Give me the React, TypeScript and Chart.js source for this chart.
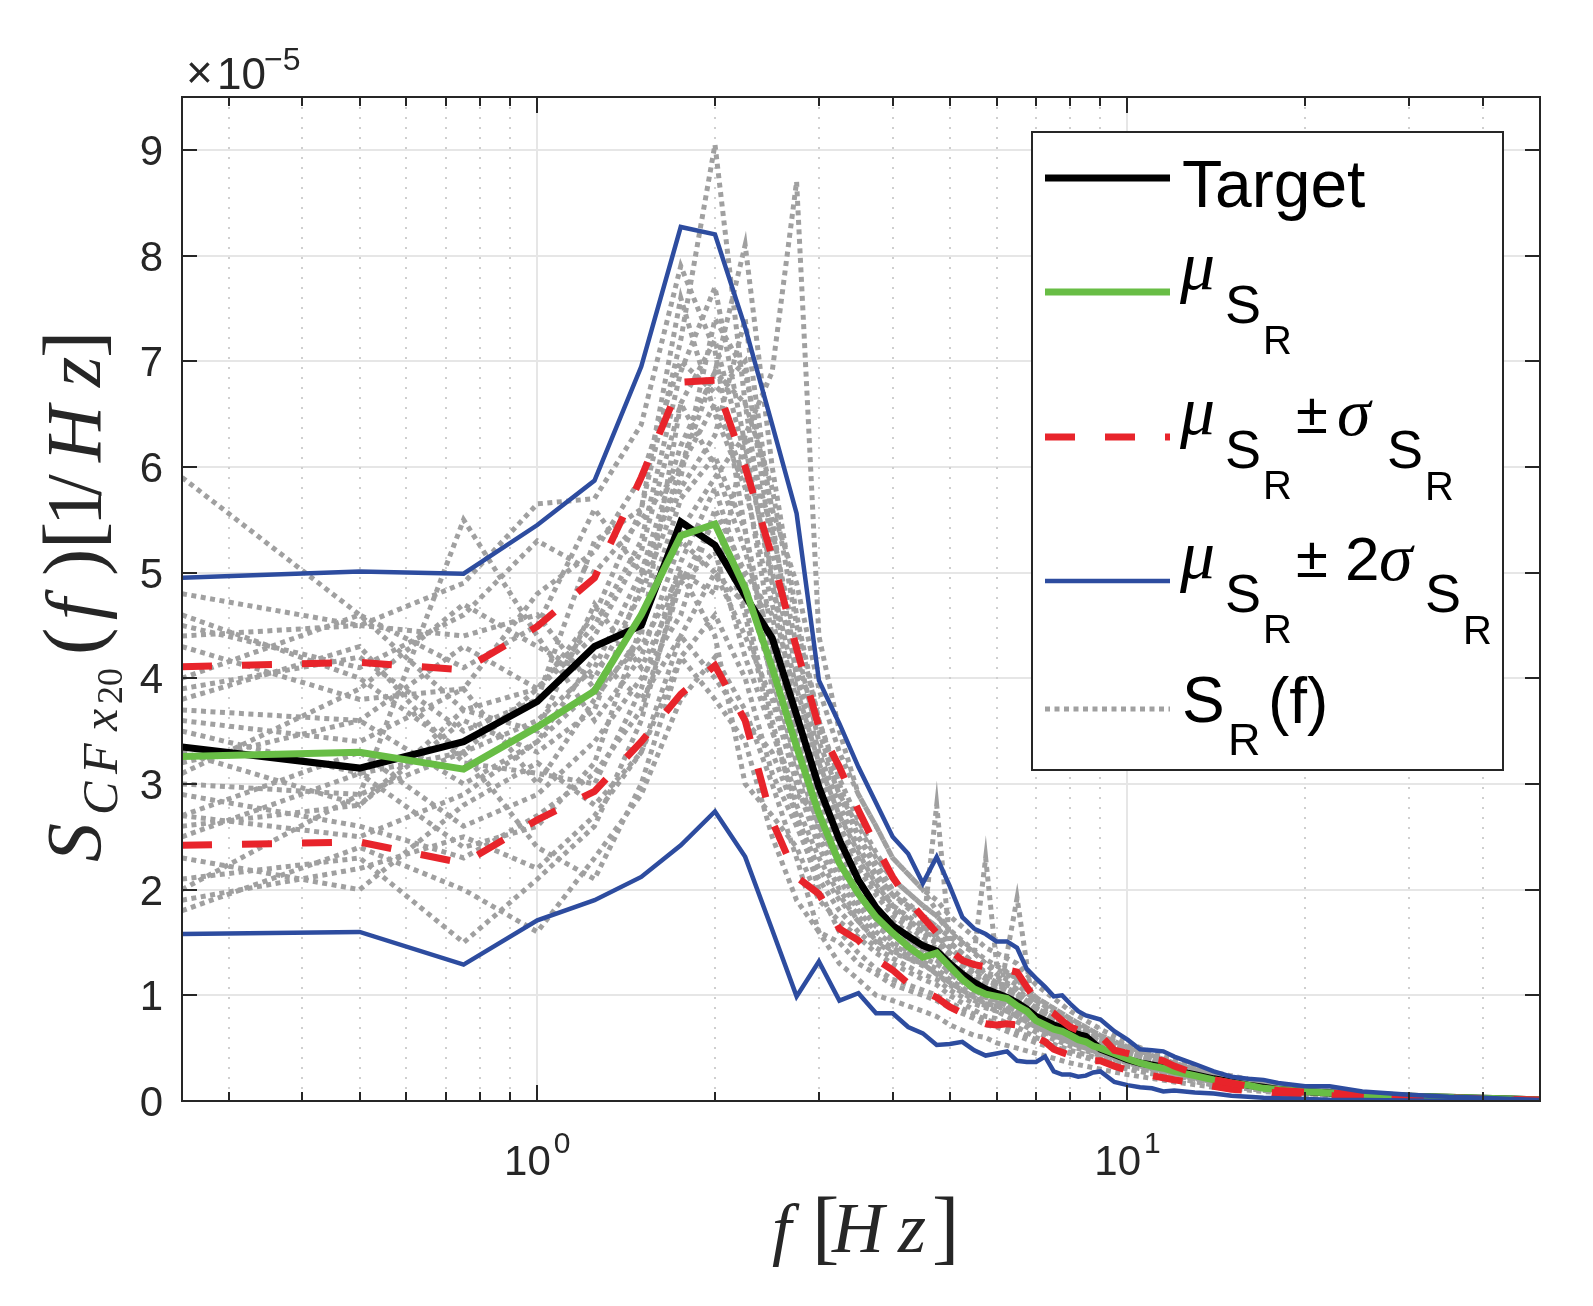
import React, { useEffect, useRef } from 'react';
import { Chart, registerables } from 'chart.js';

Chart.register(...registerables);

// frequency grid of the summary curves [Hz]
const freqs = [
  0.25, 0.5, 0.75, 1.0, 1.25, 1.5, 1.75, 2.0,
  2.25, 2.5, 2.75, 3.0, 3.25, 3.5, 3.75, 4.0,
  4.25, 4.5, 4.75, 5.0, 5.25, 5.5, 5.75, 6.0,
  6.25, 6.5, 6.75, 7.0, 7.25, 7.5, 7.75, 8.0,
  8.25, 8.5, 8.75, 9.0, 9.5, 10, 10.5, 11,
  11.5, 12, 13, 14, 15, 16, 17, 18,
  20, 22, 25, 30, 35, 40, 45, 50,
];

// values in units of 1e-5 [1/Hz]
const target = [
  3.35, 3.15, 3.40, 3.78, 4.30, 4.50, 5.48, 5.26,
  4.78, 4.38, 3.65, 2.97, 2.47, 2.09, 1.83, 1.66,
  1.56, 1.47, 1.42, 1.30, 1.20, 1.12, 1.06, 1.02,
  0.98, 0.93, 0.87, 0.80, 0.76, 0.72, 0.69, 0.66,
  0.63, 0.61, 0.55, 0.49, 0.44, 0.39, 0.36, 0.34,
  0.32, 0.29, 0.25, 0.21, 0.18, 0.15, 0.13, 0.11,
  0.09, 0.075, 0.06, 0.045, 0.035, 0.025, 0.018, 0.01,
];

const meanSR = [
  3.26, 3.30, 3.14, 3.54, 3.88, 4.60, 5.35, 5.46,
  4.85, 4.10, 3.35, 2.72, 2.25, 1.96, 1.74, 1.59,
  1.46, 1.36, 1.40, 1.27, 1.15, 1.06, 1.01, 0.99,
  0.97, 0.90, 0.85, 0.76, 0.72, 0.68, 0.66, 0.62,
  0.58, 0.56, 0.52, 0.50, 0.45, 0.40, 0.36, 0.33,
  0.31, 0.28, 0.24, 0.20, 0.17, 0.15, 0.12, 0.11,
  0.09, 0.075, 0.06, 0.045, 0.035, 0.025, 0.018, 0.01,
];

const plusSigma = [
  4.11, 4.15, 4.08, 4.49, 4.95, 5.90, 6.80, 6.82,
  6.00, 5.15, 4.28, 3.54, 3.16, 2.75, 2.41, 2.12,
  1.90, 1.74, 1.59, 1.43, 1.33, 1.29, 1.27, 1.25,
  1.24, 1.22, 1.08, 0.95, 0.88, 0.83, 0.76, 0.70,
  0.67, 0.64, 0.62, 0.62, 0.48, 0.45, 0.42, 0.40,
  0.38, 0.33, 0.26, 0.20, 0.17, 0.14, 0.12, 0.10,
  0.085, 0.075, 0.06, 0.04, 0.03, 0.02, 0.015, 0.01,
];

const minusSigma = [
  2.42, 2.45, 2.25, 2.66, 2.93, 3.40, 3.85, 4.12,
  3.60, 2.65, 2.12, 1.96, 1.63, 1.52, 1.34, 1.24,
  1.11, 1.04, 0.98, 0.89, 0.83, 0.76, 0.73, 0.72,
  0.73, 0.72, 0.68, 0.60, 0.56, 0.49, 0.46, 0.43,
  0.40, 0.38, 0.38, 0.38, 0.33, 0.29, 0.26, 0.24,
  0.22, 0.20, 0.17, 0.14, 0.11, 0.10, 0.085, 0.075,
  0.065, 0.05, 0.04, 0.03, 0.02, 0.015, 0.01, 0.005,
];

const plus2Sigma = [
  4.95, 5.01, 4.99, 5.45, 5.87, 6.95, 8.27, 8.20,
  7.32, 6.40, 5.56, 3.98, 3.57, 3.16, 2.82, 2.50,
  2.34, 2.06, 2.31, 2.03, 1.74, 1.63, 1.58, 1.51,
  1.51, 1.45, 1.25, 1.16, 1.08, 0.99, 1.00, 0.92,
  0.85, 0.81, 0.79, 0.77, 0.66, 0.58, 0.49, 0.48,
  0.47, 0.42, 0.35, 0.28, 0.23, 0.21, 0.20, 0.17,
  0.14, 0.14, 0.09, 0.06, 0.04, 0.03, 0.02, 0.01,
];

const minus2Sigma = [
  1.58, 1.60, 1.29, 1.71, 1.90, 2.12, 2.42, 2.74,
  2.31, 1.62, 0.99, 1.32, 0.95, 1.02, 0.83, 0.83,
  0.70, 0.64, 0.53, 0.54, 0.56, 0.48, 0.43, 0.45,
  0.47, 0.38, 0.37, 0.37, 0.42, 0.28, 0.25, 0.25,
  0.23, 0.24, 0.27, 0.28, 0.18, 0.15, 0.13, 0.12,
  0.09, 0.10, 0.08, 0.07, 0.05, 0.04, 0.03, 0.025,
  0.02, 0.012, 0.01, 0.005, 0.003, 0.002, 0.001, 0.0,
];

// frequency grid of the individual realisations S_R(f)
const sampleFreqs = [
  0.25, 0.5, 0.75, 1, 1.25, 1.5, 1.75, 2, 2.25, 2.5,
  2.75, 3, 3.25, 3.5, 3.75, 4, 4.5, 4.75, 5, 5.5,
  5.75, 6, 6.5, 7, 8, 9, 10, 12, 14, 17,
  20, 25, 30, 40, 50,
];

const samples = [
  [5.9, 4.6, 3.7, 3.9, 4.4, 5.2, 6.6, 7.2, 6.1, 5.0,
    4.1, 3.3, 2.8, 2.4, 2.1, 1.85, 1.6, 1.55, 1.4, 1.2,
    1.1, 1.05, 0.95, 0.8, 0.65, 0.5, 0.42, 0.3, 0.22, 0.14,
    0.1, 0.07, 0.05, 0.025, 0.01],
  [3.0, 2.9, 3.3, 3.9, 4.6, 5.6, 7.2, 9.05, 6.6, 4.9,
    3.6, 2.9, 2.4, 2.0, 1.8, 1.7, 1.5, 1.45, 1.3, 1.15,
    1.05, 1.0, 0.9, 0.75, 0.6, 0.5, 0.4, 0.28, 0.2, 0.13,
    0.09, 0.06, 0.045, 0.02, 0.01],
  [2.7, 2.5, 2.9, 3.4, 3.9, 4.6, 5.4, 5.9, 6.3, 6.9,
    8.7, 4.4, 3.5, 2.9, 2.6, 2.3, 2.0, 1.8, 1.6, 1.4,
    1.3, 1.2, 1.1, 0.95, 0.75, 0.6, 0.5, 0.33, 0.24, 0.16,
    0.11, 0.07, 0.05, 0.025, 0.01],
  [4.6, 4.0, 3.3, 3.6, 4.1, 5.0, 6.2, 6.9, 8.1, 6.0,
    4.6, 3.6, 3.0, 2.5, 2.2, 1.95, 1.7, 1.6, 1.45, 1.25,
    1.15, 1.1, 1.0, 0.85, 0.68, 0.55, 0.45, 0.32, 0.22, 0.15,
    0.1, 0.07, 0.05, 0.025, 0.01],
  [2.0, 2.9, 5.5, 4.4, 3.6, 4.2, 5.3, 5.0, 4.4, 3.8,
    3.0, 2.4, 2.0, 1.75, 1.55, 1.45, 1.3, 1.2, 1.1, 0.95,
    0.9, 0.85, 0.75, 0.65, 0.52, 0.43, 0.36, 0.25, 0.18, 0.12,
    0.08, 0.055, 0.04, 0.02, 0.008],
  [4.4, 4.5, 4.9, 5.65, 5.7, 6.4, 7.9, 7.1, 5.4, 4.2,
    3.4, 2.9, 2.5, 2.2, 1.95, 1.75, 1.55, 1.5, 1.35, 1.15,
    1.1, 1.05, 0.95, 0.8, 0.62, 0.52, 0.44, 0.3, 0.21, 0.14,
    0.1, 0.065, 0.045, 0.022, 0.01],
  [1.8, 2.4, 2.0, 1.6, 2.3, 2.9, 3.8, 4.2, 3.7, 3.0,
    2.3, 1.6, 1.3, 1.15, 1.0, 0.95, 0.85, 0.8, 0.72, 0.62,
    0.6, 0.55, 0.5, 0.45, 0.36, 0.3, 0.25, 0.18, 0.13, 0.09,
    0.06, 0.04, 0.03, 0.015, 0.005],
  [2.7, 3.3, 2.6, 2.9, 3.4, 4.0, 4.6, 5.6, 5.0, 4.6,
    3.4, 2.6, 2.2, 1.9, 1.7, 1.5, 1.35, 1.3, 1.2, 1.05,
    0.98, 0.95, 0.85, 0.72, 0.58, 0.47, 0.39, 0.27, 0.2, 0.13,
    0.09, 0.06, 0.04, 0.02, 0.008],
  [3.6, 3.4, 3.9, 3.0, 3.8, 4.4, 6.6, 6.0, 5.2, 4.3,
    3.6, 3.0, 2.6, 2.3, 2.0, 1.8, 1.6, 2.8, 1.5, 1.3,
    1.2, 1.15, 1.05, 0.88, 0.7, 0.56, 0.46, 0.33, 0.23, 0.15,
    0.1, 0.07, 0.05, 0.024, 0.01],
  [3.1, 3.9, 4.7, 4.3, 4.0, 4.8, 5.8, 6.3, 7.4, 5.5,
    4.0, 3.2, 2.7, 2.4, 2.15, 1.95, 1.75, 1.65, 1.55, 1.4,
    2.3, 1.3, 1.15, 0.95, 0.75, 0.6, 0.5, 0.35, 0.25, 0.16,
    0.11, 0.075, 0.05, 0.025, 0.01],
  [2.3, 2.0, 2.8, 3.2, 2.8, 3.3, 4.2, 4.6, 4.0, 3.1,
    2.6, 2.1, 1.8, 1.6, 1.45, 1.35, 1.2, 1.15, 1.05, 0.92,
    0.88, 0.85, 1.92, 0.7, 0.56, 0.46, 0.38, 0.27, 0.19, 0.12,
    0.085, 0.055, 0.04, 0.02, 0.008],
  [4.0, 4.6, 4.1, 4.5, 5.6, 5.0, 5.9, 7.4, 6.9, 5.6,
    4.9, 3.9, 3.3, 2.9, 2.6, 2.3, 2.0, 1.9, 1.75, 1.55,
    1.45, 1.4, 1.3, 1.1, 0.85, 0.68, 0.55, 0.38, 0.27, 0.18,
    0.12, 0.08, 0.055, 0.028, 0.012],
  [3.3, 2.8, 3.7, 3.5, 4.7, 4.1, 4.9, 5.5, 4.6, 3.5,
    2.9, 2.7, 2.2, 1.85, 1.65, 1.55, 1.45, 1.35, 1.25, 1.08,
    1.0, 0.98, 0.88, 0.76, 0.6, 0.49, 0.4, 0.28, 0.2, 0.13,
    0.09, 0.06, 0.045, 0.022, 0.009],
  [2.5, 3.1, 3.3, 2.4, 2.1, 3.0, 4.2, 3.8, 3.4, 2.5,
    1.9, 1.6, 1.5, 1.3, 1.2, 1.1, 1.0, 0.95, 0.88, 0.78,
    0.72, 0.7, 0.62, 0.55, 0.45, 0.37, 0.3, 0.22, 0.15, 0.1,
    0.07, 0.045, 0.032, 0.016, 0.006],
  [4.8, 4.5, 4.4, 4.6, 3.9, 4.3, 5.0, 4.8, 6.3, 5.4,
    4.3, 3.4, 2.9, 2.6, 2.3, 2.1, 1.85, 1.75, 1.6, 1.4,
    1.3, 1.25, 1.15, 0.98, 0.78, 0.62, 0.52, 0.36, 0.25, 0.16,
    0.11, 0.075, 0.05, 0.026, 0.011],
  [3.7, 3.6, 3.0, 3.4, 4.2, 3.8, 4.4, 4.0, 3.6, 3.3,
    2.7, 2.2, 1.9, 1.7, 1.5, 1.4, 1.3, 1.2, 1.12, 0.98,
    0.92, 0.9, 0.8, 0.7, 0.55, 0.45, 0.37, 0.26, 0.18, 0.12,
    0.08, 0.055, 0.04, 0.02, 0.008],
  [2.1, 2.3, 1.5, 2.1, 2.6, 3.6, 5.0, 4.4, 3.0, 2.7,
    2.4, 1.9, 1.7, 1.55, 1.4, 1.3, 1.15, 1.1, 1.0, 0.86,
    0.8, 0.78, 0.7, 0.6, 0.48, 0.4, 0.33, 0.24, 0.17, 0.11,
    0.075, 0.05, 0.036, 0.018, 0.007],
  [3.9, 4.2, 3.5, 3.8, 5.3, 5.6, 7.6, 6.5, 5.8, 4.7,
    3.8, 3.1, 2.6, 2.25, 2.0, 1.8, 1.6, 1.5, 1.4, 1.22,
    1.15, 1.1, 1.0, 0.86, 0.67, 0.54, 0.45, 0.32, 0.22, 0.15,
    0.1, 0.068, 0.048, 0.024, 0.01],
  [3.2, 3.6, 4.3, 3.9, 4.5, 5.3, 6.9, 7.7, 6.2, 4.9,
    3.9, 3.2, 2.7, 2.35, 2.05, 1.85, 1.65, 1.55, 1.45, 1.25,
    1.18, 1.12, 1.02, 0.88, 0.7, 0.56, 0.46, 0.33, 0.23, 0.15,
    0.1, 0.07, 0.05, 0.025, 0.01],
  [2.9, 2.6, 2.3, 2.7, 3.1, 3.7, 4.9, 5.2, 4.2, 3.5,
    2.8, 2.3, 1.95, 1.7, 1.52, 1.42, 1.28, 1.22, 1.12, 0.98,
    0.92, 0.9, 0.8, 0.68, 0.55, 0.45, 0.37, 0.26, 0.18, 0.12,
    0.08, 0.055, 0.04, 0.02, 0.008],
  [4.3, 3.8, 3.9, 4.8, 5.2, 5.9, 7.0, 6.7, 7.0, 5.2,
    4.2, 3.5, 2.9, 2.5, 2.25, 2.0, 1.75, 1.65, 1.5, 1.3,
    1.22, 1.18, 1.06, 0.9, 0.72, 0.58, 0.47, 0.34, 0.24, 0.16,
    0.11, 0.072, 0.05, 0.025, 0.01],
  [3.5, 3.1, 2.4, 2.6, 3.2, 4.5, 5.7, 6.1, 5.4, 3.9,
    3.1, 2.5, 2.1, 1.8, 1.6, 1.48, 1.32, 1.25, 1.15, 1.0,
    0.95, 0.92, 0.82, 0.7, 0.56, 0.46, 0.38, 0.27, 0.19, 0.12,
    0.085, 0.058, 0.042, 0.02, 0.008],
  [2.6, 2.8, 3.6, 3.3, 3.7, 4.9, 6.0, 6.6, 5.9, 4.4,
    3.5, 2.8, 2.35, 2.05, 1.8, 1.62, 1.45, 1.38, 1.28, 1.12,
    1.05, 1.0, 0.9, 0.78, 0.62, 0.5, 0.41, 0.29, 0.21, 0.14,
    0.095, 0.063, 0.045, 0.022, 0.009],
  [3.8, 4.3, 3.2, 3.1, 3.0, 3.9, 5.1, 5.8, 4.9, 4.0,
    3.2, 2.6, 2.25, 1.95, 1.72, 1.58, 1.4, 1.33, 1.22, 1.06,
    1.0, 0.96, 0.86, 0.74, 0.59, 0.48, 0.4, 0.28, 0.2, 0.13,
    0.09, 0.06, 0.044, 0.021, 0.008],
  [1.9, 2.2, 2.5, 2.2, 2.7, 3.3, 4.4, 5.0, 4.7, 3.6,
    2.7, 2.0, 1.6, 1.4, 1.25, 1.15, 1.05, 1.0, 0.93, 0.82,
    0.77, 0.74, 0.66, 0.58, 0.46, 0.38, 0.31, 0.22, 0.16, 0.1,
    0.07, 0.048, 0.034, 0.017, 0.007],
  [4.5, 4.1, 4.6, 5.3, 5.0, 5.5, 6.0, 6.9, 6.6, 5.8,
    4.5, 3.6, 3.05, 2.65, 2.35, 2.1, 1.85, 1.75, 1.62, 1.42,
    1.34, 1.28, 1.16, 0.98, 0.78, 0.62, 0.51, 0.36, 0.25, 0.17,
    0.11, 0.074, 0.052, 0.026, 0.011],
];

const yTicks = [0, 1, 2, 3, 4, 5, 6, 7, 8, 9];
const xMajorTicks = [1, 10];
const xMinorTicks = [0.3, 0.4, 0.5, 0.6, 0.7, 0.8, 0.9, 2, 3, 4, 5, 6, 7, 8, 9, 20, 30, 40];

const SANS = '"Liberation Sans", Arial, sans-serif';
const SERIF = '"Liberation Serif", "Times New Roman", serif';
const AXIS_COLOR = '#262626';

const BLACK = '#000000';
const GREEN = '#68bd45';
const RED = '#e8242b';
const BLUE = '#2d4c9f';
const GRAY = '#a0a0a0';

type Glyph = { t: string; x: number; y: number; font: string };

function drawGlyphs(ctx: CanvasRenderingContext2D, glyphs: Glyph[], color: string) {
  ctx.fillStyle = color;
  ctx.textAlign = 'left';
  ctx.textBaseline = 'alphabetic';
  for (const g of glyphs) {
    ctx.font = g.font;
    ctx.fillText(g.t, g.x, g.y);
  }
}

function seg(ctx: CanvasRenderingContext2D, x1: number, y1: number, x2: number, y2: number) {
  ctx.beginPath();
  ctx.moveTo(x1, y1);
  ctx.lineTo(x2, y2);
  ctx.stroke();
}

// mu_{S_R} pieces for a legend row
function muSR(x: number, base: number): Glyph[] {
  return [
    { t: 'μ', x: x - 2, y: base, font: `italic 70px ${SERIF}` },
    { t: 'S', x: x + 43, y: base + 34, font: `54px ${SANS}` },
    { t: 'R', x: x + 81, y: base + 65, font: `40px ${SANS}` },
  ];
}

const axesPlugin = {
  id: 'matlabAxes',
  beforeDatasetsDraw(chart: any) {
    const { ctx, chartArea: a } = chart;
    const x = chart.scales.x;
    const y = chart.scales.y;
    ctx.save();
    ctx.lineWidth = 2;
    ctx.strokeStyle = '#e6e6e6';
    for (const v of yTicks) {
      if (v === 0) continue;
      const py = Math.round(y.getPixelForValue(v));
      seg(ctx, a.left, py, a.right, py);
    }
    for (const v of xMajorTicks) {
      const px = Math.round(x.getPixelForValue(v));
      seg(ctx, px, a.top, px, a.bottom);
    }
    ctx.setLineDash([2, 8]);
    ctx.strokeStyle = '#cfcfcf';
    for (const v of xMinorTicks) {
      const px = Math.round(x.getPixelForValue(v));
      seg(ctx, px, a.top, px, a.bottom);
    }
    ctx.restore();
  },
  afterDraw(chart: any) {
    const { ctx, chartArea: a } = chart;
    const x = chart.scales.x;
    const y = chart.scales.y;
    ctx.save();

    // box and inward ticks
    ctx.strokeStyle = AXIS_COLOR;
    ctx.lineWidth = 2;
    ctx.strokeRect(a.left, a.top, a.right - a.left, a.bottom - a.top);
    for (const v of yTicks) {
      const py = Math.round(y.getPixelForValue(v));
      seg(ctx, a.left, py, a.left + 15, py);
      seg(ctx, a.right, py, a.right - 15, py);
    }
    for (const v of xMajorTicks) {
      const px = Math.round(x.getPixelForValue(v));
      seg(ctx, px, a.bottom, px, a.bottom - 16);
      seg(ctx, px, a.top, px, a.top + 16);
    }
    for (const v of xMinorTicks) {
      const px = Math.round(x.getPixelForValue(v));
      seg(ctx, px, a.bottom, px, a.bottom - 9);
      seg(ctx, px, a.top, px, a.top + 9);
    }

    // y tick labels
    ctx.fillStyle = AXIS_COLOR;
    ctx.font = `42px ${SANS}`;
    ctx.textAlign = 'right';
    ctx.textBaseline = 'alphabetic';
    for (const v of yTicks) {
      ctx.fillText(String(v), a.left - 19, y.getPixelForValue(v) + 15);
    }

    // x tick labels 10^n
    ctx.textAlign = 'left';
    for (const v of xMajorTicks) {
      const px = x.getPixelForValue(v);
      const exp = String(Math.round(Math.log10(v)));
      ctx.font = `42px ${SANS}`;
      const wb = ctx.measureText('10').width;
      ctx.font = `30px ${SANS}`;
      const we = ctx.measureText(exp).width;
      const x0 = px - (wb + we + 3) / 2;
      ctx.font = `42px ${SANS}`;
      ctx.fillText('10', x0, a.bottom + 74);
      ctx.font = `30px ${SANS}`;
      ctx.fillText(exp, x0 + wb + 3, a.bottom + 52);
    }

    // exponent label
    drawGlyphs(ctx, [
      { t: '×', x: a.left + 4, y: 88, font: `46px ${SANS}` },
      { t: '10', x: a.left + 35, y: 89, font: `44px ${SANS}` },
      { t: '−5', x: a.left + 82, y: 70, font: `32px ${SANS}` },
    ], AXIS_COLOR);

    // x axis title  f[Hz]
    drawGlyphs(ctx, [
      { t: 'f', x: 772, y: 1252, font: `italic 70px ${SERIF}` },
      { t: '[', x: 812, y: 1254, font: `82px ${SERIF}` },
      { t: 'H', x: 832, y: 1252, font: `italic 72px ${SERIF}` },
      { t: 'z', x: 898, y: 1252, font: `italic 72px ${SERIF}` },
      { t: ']', x: 932, y: 1254, font: `82px ${SERIF}` },
    ], AXIS_COLOR);

    // y axis title  S_{CFx_20}(f)[1/Hz]
    ctx.save();
    ctx.translate(100, 862);
    ctx.rotate(-Math.PI / 2);
    drawGlyphs(ctx, [
      { t: 'S', x: 0, y: 0, font: `italic 78px ${SERIF}` },
      { t: 'C', x: 47, y: 17, font: `italic 50px ${SERIF}` },
      { t: 'F', x: 88, y: 17, font: `italic 50px ${SERIF}` },
      { t: 'x', x: 131, y: 17, font: `italic 50px ${SERIF}` },
      { t: '20', x: 158, y: 22, font: `36px ${SERIF}` },
      { t: '(', x: 207, y: 0, font: `82px ${SERIF}` },
      { t: 'f', x: 242, y: 0, font: `italic 78px ${SERIF}` },
      { t: ')', x: 286, y: 0, font: `82px ${SERIF}` },
      { t: '[', x: 313, y: 0, font: `82px ${SERIF}` },
      { t: '1', x: 336, y: 0, font: `78px ${SERIF}` },
      { t: '/', x: 366, y: 0, font: `78px ${SERIF}` },
      { t: 'H', x: 400, y: 0, font: `italic 78px ${SERIF}` },
      { t: 'z', x: 475, y: 0, font: `italic 78px ${SERIF}` },
      { t: ']', x: 504, y: 0, font: `82px ${SERIF}` },
    ], AXIS_COLOR);
    ctx.restore();

    // legend
    const lx = 1032;
    const ly = 132;
    ctx.fillStyle = '#ffffff';
    ctx.fillRect(lx, ly, 471, 638);
    ctx.strokeStyle = AXIS_COLOR;
    ctx.lineWidth = 2;
    ctx.strokeRect(lx, ly, 471, 638);

    const rows = [
      { y: 178, color: BLACK, width: 7, dash: [] as number[] },
      { y: 292, color: GREEN, width: 7, dash: [] as number[] },
      { y: 437, color: RED, width: 7, dash: [30, 30] },
      { y: 581, color: BLUE, width: 4.5, dash: [] as number[] },
      { y: 709, color: GRAY, width: 5, dash: [5, 4.5] },
    ];
    for (const r of rows) {
      ctx.strokeStyle = r.color;
      ctx.lineWidth = r.width;
      ctx.setLineDash(r.dash);
      seg(ctx, 1045, r.y, 1170, r.y);
    }
    ctx.setLineDash([]);

    const tx = 1182;
    const glyphs: Glyph[] = [
      { t: 'Target', x: tx, y: 207, font: `66px ${SANS}` },
      ...muSR(tx, 289),
      ...muSR(tx, 434),
      { t: '±', x: 1296, y: 433, font: `58px ${SANS}` },
      { t: 'σ', x: 1337, y: 435, font: `italic 68px ${SERIF}` },
      { t: 'S', x: 1387, y: 468, font: `54px ${SANS}` },
      { t: 'R', x: 1425, y: 500, font: `40px ${SANS}` },
      ...muSR(tx, 578),
      { t: '±', x: 1296, y: 577, font: `58px ${SANS}` },
      { t: '2', x: 1345, y: 580, font: `62px ${SANS}` },
      { t: 'σ', x: 1379, y: 580, font: `italic 68px ${SERIF}` },
      { t: 'S', x: 1425, y: 612, font: `54px ${SANS}` },
      { t: 'R', x: 1463, y: 644, font: `40px ${SANS}` },
      { t: 'S', x: tx, y: 722, font: `64px ${SANS}` },
      { t: 'R', x: 1228, y: 755, font: `45px ${SANS}` },
      { t: '(f)', x: 1268, y: 723, font: `64px ${SANS}` },
    ];
    drawGlyphs(ctx, glyphs, '#000000');

    ctx.restore();
  },
};

function series(label: string, xs: number[], ys: number[], color: string, width: number, dash: number[], order: number) {
  return {
    label,
    data: xs.map((f, i) => ({ x: f, y: ys[i] })),
    borderColor: color,
    backgroundColor: color,
    borderWidth: width,
    borderDash: dash,
    borderCapStyle: 'butt' as const,
    pointRadius: 0,
    tension: 0,
    fill: false,
    order,
  };
}

const SpectrumChart = () => {
  const canvasRef = useRef<HTMLCanvasElement>(null);
  const chartRef = useRef<Chart | null>(null);

  useEffect(() => {
    if (!canvasRef.current) return;
    const ctx = canvasRef.current.getContext('2d');
    if (!ctx) return;

    const datasets: any[] = [
      series('mu+2sigma', freqs, plus2Sigma, BLUE, 4.5, [], 0),
      series('mu-2sigma', freqs, minus2Sigma, BLUE, 4.5, [], 0),
      series('mu+sigma', freqs, plusSigma, RED, 7, [30, 30], 1),
      series('mu-sigma', freqs, minusSigma, RED, 7, [30, 30], 1),
      series('mu', freqs, meanSR, GREEN, 7, [], 2),
      series('Target', freqs, target, BLACK, 7, [], 3),
      ...samples.map((s, k) => series(`S_R ${k + 1}`, sampleFreqs, s, GRAY, 5, [5, 4.5], 4)),
    ];

    chartRef.current = new Chart(ctx, {
      type: 'line',
      data: { datasets },
      options: {
        animation: false,
        responsive: true,
        maintainAspectRatio: false,
        events: [],
        layout: { padding: { top: 97, right: 53, left: 0, bottom: 0 } },
        plugins: {
          legend: { display: false },
          tooltip: { enabled: false },
        },
        scales: {
          x: {
            type: 'logarithmic',
            min: 0.25,
            max: 50,
            grid: { display: false },
            border: { display: false },
            ticks: { display: false },
            afterFit: (scale: any) => { scale.height = 205; },
          },
          y: {
            type: 'linear',
            min: 0,
            max: 9.5,
            grid: { display: false },
            border: { display: false },
            ticks: { display: false },
            afterFit: (scale: any) => { scale.width = 182; },
          },
        },
      },
      plugins: [axesPlugin],
    });

    return () => {
      if (chartRef.current) {
        chartRef.current.destroy();
        chartRef.current = null;
      }
    };
  }, []);

  return (
    <div style={{ position: 'fixed', left: 0, top: 0, width: 1593, height: 1306, background: '#ffffff' }}>
      <canvas ref={canvasRef} />
    </div>
  );
};

export default function App() {
  return <SpectrumChart />;
}
